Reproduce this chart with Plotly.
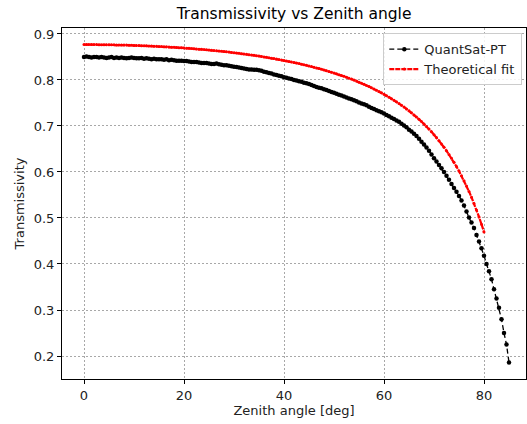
import plotly.graph_objects as go

# Zenith angles of the QuantSat-PT samples [deg]
angle_meas = [
    0.0, 0.5, 1.0, 1.5, 2.0, 2.5, 3.0, 3.5, 4.0, 4.5,
    5.0, 5.5, 6.0, 6.5, 7.0, 7.5, 8.0, 8.5, 9.0, 9.5,
    10.0, 10.5, 11.0, 11.5, 12.0, 12.5, 13.0, 13.5, 14.0, 14.5,
    15.0, 15.5, 16.0, 16.5, 17.0, 17.5, 18.0, 18.5, 19.0, 19.5,
    20.0, 20.5, 21.0, 21.5, 22.0, 22.5, 23.0, 23.5, 24.0, 24.5,
    25.0, 25.5, 26.0, 26.5, 27.0, 27.5, 28.0, 28.5, 29.0, 29.5,
    30.0, 30.5, 31.0, 31.5, 32.0, 32.5, 33.0, 33.5, 34.0, 34.5,
    35.0, 35.5, 36.0, 36.5, 37.0, 37.5, 38.0, 38.5, 39.0, 39.5,
    40.0, 40.5, 41.0, 41.5, 42.0, 42.5, 43.0, 43.5, 44.0, 44.5,
    45.0, 45.5, 46.0, 46.5, 47.0, 47.5, 48.0, 48.5, 49.0, 49.5,
    50.0, 50.5, 51.0, 51.5, 52.0, 52.5, 53.0, 53.5, 54.0, 54.5,
    55.0, 55.5, 56.0, 56.5, 57.0, 57.5, 58.0, 58.5, 59.0, 59.5,
    60.0, 60.5, 61.0, 61.5, 62.0, 62.5, 63.0, 63.5, 64.0, 64.5,
    65.0, 65.5, 66.0, 66.5, 67.0, 67.5, 68.0, 68.5, 69.0, 69.5,
    70.0, 70.5, 71.0, 71.5, 72.0, 72.5, 73.0, 73.5, 74.0, 74.5,
    75.0, 75.5, 76.0, 76.5, 77.0, 77.5, 78.0, 78.5, 79.0, 79.5,
    80.0, 80.5, 81.0, 81.5, 82.0, 82.5, 83.0, 83.5, 84.0, 84.5,
    85.0,
]

# Measured transmissivity
trans_meas = [
    0.850, 0.851, 0.850, 0.849, 0.850, 0.850, 0.849, 0.850, 0.849, 0.848,
    0.849, 0.850, 0.848, 0.849, 0.848, 0.849, 0.848, 0.847, 0.848, 0.849,
    0.848, 0.847, 0.847, 0.848, 0.846, 0.847, 0.846, 0.845, 0.846, 0.845,
    0.845, 0.845, 0.844, 0.845, 0.843, 0.844, 0.843, 0.842, 0.842, 0.842,
    0.841, 0.841, 0.840, 0.839, 0.839, 0.839, 0.838, 0.837, 0.837, 0.837,
    0.836, 0.835, 0.835, 0.836, 0.834, 0.833, 0.832, 0.832, 0.831, 0.830,
    0.829, 0.828, 0.827, 0.826, 0.825, 0.824, 0.823, 0.823, 0.822, 0.822,
    0.821, 0.820, 0.818, 0.817, 0.815, 0.814, 0.812, 0.811, 0.809, 0.808,
    0.806, 0.805, 0.803, 0.802, 0.800, 0.799, 0.797, 0.796, 0.794, 0.793,
    0.791, 0.789, 0.787, 0.785, 0.783, 0.782, 0.780, 0.778, 0.776, 0.774,
    0.772, 0.770, 0.768, 0.766, 0.764, 0.762, 0.760, 0.758, 0.756, 0.754,
    0.751, 0.749, 0.747, 0.745, 0.742, 0.739, 0.737, 0.734, 0.732, 0.730,
    0.727, 0.724, 0.721, 0.718, 0.715, 0.712, 0.709, 0.705, 0.701, 0.697,
    0.692, 0.688, 0.683, 0.678, 0.672, 0.666, 0.660, 0.653, 0.646, 0.638,
    0.630, 0.623, 0.615, 0.608, 0.600, 0.592, 0.583, 0.574, 0.565, 0.557,
    0.548, 0.538, 0.527, 0.514, 0.501, 0.490, 0.478, 0.463, 0.449, 0.434,
    0.418, 0.400, 0.384, 0.367, 0.345, 0.325, 0.305, 0.280, 0.250, 0.225,
    0.186,
]

# Zenith angles of the theoretical fit [deg]
angle_fit = angle_meas[:161]

# Theoretical fit values
trans_fit = [
    0.8770, 0.8770, 0.8770, 0.8770, 0.8770, 0.8769, 0.8768, 0.8768, 0.8767, 0.8767,
    0.8766, 0.8765, 0.8764, 0.8763, 0.8761, 0.8760, 0.8759, 0.8758, 0.8756, 0.8754,
    0.8752, 0.8750, 0.8748, 0.8746, 0.8744, 0.8742, 0.8739, 0.8737, 0.8734, 0.8732,
    0.8729, 0.8726, 0.8723, 0.8720, 0.8717, 0.8714, 0.8710, 0.8707, 0.8703, 0.8700,
    0.8696, 0.8692, 0.8688, 0.8684, 0.8679, 0.8675, 0.8670, 0.8666, 0.8661, 0.8656,
    0.8651, 0.8646, 0.8640, 0.8635, 0.8629, 0.8624, 0.8618, 0.8612, 0.8606, 0.8600,
    0.8593, 0.8586, 0.8579, 0.8572, 0.8565, 0.8558, 0.8550, 0.8543, 0.8535, 0.8527,
    0.8519, 0.8510, 0.8501, 0.8493, 0.8484, 0.8475, 0.8465, 0.8455, 0.8445, 0.8435,
    0.8424, 0.8414, 0.8403, 0.8392, 0.8380, 0.8368, 0.8356, 0.8344, 0.8331, 0.8318,
    0.8305, 0.8291, 0.8277, 0.8263, 0.8248, 0.8233, 0.8218, 0.8202, 0.8186, 0.8169,
    0.8152, 0.8134, 0.8116, 0.8098, 0.8079, 0.8059, 0.8039, 0.8019, 0.7998, 0.7976,
    0.7953, 0.7930, 0.7907, 0.7882, 0.7857, 0.7831, 0.7805, 0.7777, 0.7749, 0.7720,
    0.7690, 0.7659, 0.7627, 0.7594, 0.7560, 0.7525, 0.7488, 0.7450, 0.7411, 0.7371,
    0.7329, 0.7286, 0.7240, 0.7194, 0.7145, 0.7095, 0.7043, 0.6988, 0.6932, 0.6873,
    0.6811, 0.6747, 0.6680, 0.6610, 0.6537, 0.6461, 0.6381, 0.6297, 0.6210, 0.6117,
    0.6020, 0.5918, 0.5811, 0.5697, 0.5578, 0.5451, 0.5317, 0.5175, 0.5024, 0.4864,
    0.4694,
]

x_ticks = [0, 20, 40, 60, 80]
y_ticks = [0.2, 0.3, 0.4, 0.5, 0.6, 0.7, 0.8, 0.9]

font_family = "DejaVu Sans"

fig = go.Figure()

fig.add_trace(go.Scatter(
    x=angle_meas, y=trans_meas,
    mode="lines+markers",
    name="QuantSat-PT",
    line=dict(color="black", width=1.3, dash="5px,3px"),
    marker=dict(color="black", size=4.5, symbol="circle"),
))

fig.add_trace(go.Scatter(
    x=angle_fit, y=trans_fit,
    mode="lines+markers",
    name="Theoretical fit",
    line=dict(color="red", width=2.2, dash="5px,1px"),
    marker=dict(color="red", size=3, symbol="circle"),
))

axis_common = dict(
    showline=True, linecolor="black", linewidth=1, mirror=True,
    ticks="outside", ticklen=4, tickwidth=1, tickcolor="black",
    showgrid=True, gridcolor="#a8a8a8", gridwidth=0.5, griddash="2px,2px",
    zeroline=False,
    tickfont=dict(family=font_family, size=13, color="#222"),
)

fig.update_xaxes(
    range=[-4.4, 88.4], tickvals=x_ticks,
    title=dict(text="Zenith angle [deg]", standoff=4,
               font=dict(family=font_family, size=13, color="#222")),
    **axis_common,
)
fig.update_yaxes(
    range=[0.15, 0.913], tickvals=y_ticks, tickformat=".1f",
    title=dict(text="Transmissivity", standoff=6,
               font=dict(family=font_family, size=13, color="#222")),
    **axis_common,
)

fig.update_layout(
    width=527, height=424,
    margin=dict(l=62, r=1, t=28, b=45),
    plot_bgcolor="white", paper_bgcolor="white",
    title=dict(text="Transmissivity vs Zenith angle", x=0.558, xanchor="center",
               y=0.967, yanchor="middle",
               font=dict(family=font_family, size=15.5, color="black")),
    legend=dict(
        x=0.992, xanchor="right", y=0.985, yanchor="top",
        bgcolor="rgba(255,255,255,0.85)", bordercolor="#cccccc", borderwidth=1,
        font=dict(family=font_family, size=13, color="#222"),
        itemwidth=30, tracegroupgap=2,
    ),
    showlegend=True,
)

fig.write_html("out.html")
